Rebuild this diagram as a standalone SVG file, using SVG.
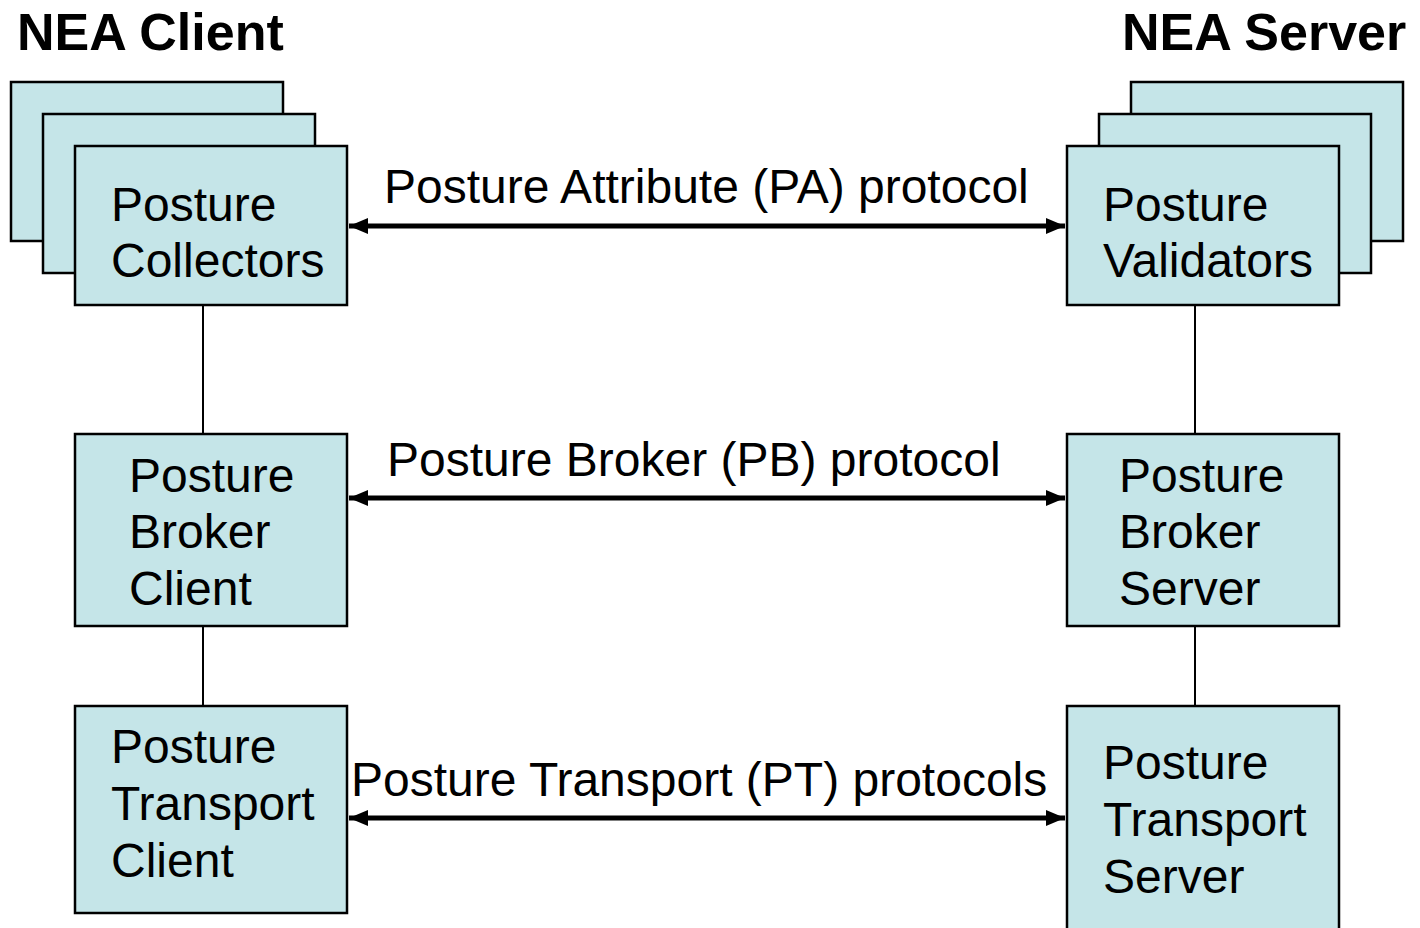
<svg xmlns="http://www.w3.org/2000/svg" width="1420" height="928" viewBox="0 0 1420 928">
<defs>
<style>
.box{fill:#C5E5E8;stroke:#000;stroke-width:2.5}
.t{font-family:"Liberation Sans",Arial,sans-serif;font-size:48px;fill:#000}
.h{font-family:"Liberation Sans",Arial,sans-serif;font-size:52px;font-weight:bold;fill:#000}
.link{stroke:#000;stroke-width:2;fill:none}
.arr{stroke:#000;stroke-width:5;fill:none;marker-start:url(#ah);marker-end:url(#ah)}
</style>
<marker id="ah" markerUnits="userSpaceOnUse" markerWidth="20" markerHeight="18" viewBox="0 0 20 18" refX="19" refY="9" orient="auto-start-reverse">
<path d="M0,1 L19,9 L0,17 Z" fill="#000"/>
</marker>
</defs>
<rect width="1420" height="928" fill="#fff"/>
<text class="h" x="17" y="50">NEA Client</text>
<text class="h" x="1122" y="50">NEA Server</text>
<g id="connectors">
<line class="link" x1="203" y1="305" x2="203" y2="434"/>
<line class="link" x1="203" y1="626" x2="203" y2="706"/>
<line class="link" x1="1195" y1="305" x2="1195" y2="434"/>
<line class="link" x1="1195" y1="626" x2="1195" y2="706"/>
<line class="arr" x1="349" y1="226" x2="1065" y2="226"/>
<line class="arr" x1="349" y1="498" x2="1065" y2="498"/>
<line class="arr" x1="349" y1="818" x2="1065" y2="818"/>
<text class="t" x="384" y="203">Posture Attribute (PA) protocol</text>
<text class="t" x="387" y="476">Posture Broker (PB) protocol</text>
<text class="t" x="351" y="796">Posture Transport (PT) protocols</text>
</g>
<g id="posture-collectors">
<rect class="box" x="11" y="82" width="272" height="159"/>
<rect class="box" x="43" y="114" width="272" height="159"/>
<rect class="box" x="75" y="146" width="272" height="159"/>
<text class="t" x="111" y="221">Posture</text>
<text class="t" x="111" y="277">Collectors</text>
</g>
<g id="posture-validators">
<rect class="box" x="1131" y="82" width="272" height="159"/>
<rect class="box" x="1099" y="114" width="272" height="159"/>
<rect class="box" x="1067" y="146" width="272" height="159"/>
<text class="t" x="1103" y="221">Posture</text>
<text class="t" x="1103" y="277">Validators</text>
</g>
<g id="posture-broker-client">
<rect class="box" x="75" y="434" width="272" height="192"/>
<text class="t" x="129" y="492">Posture</text>
<text class="t" x="129" y="548">Broker</text>
<text class="t" x="129" y="605">Client</text>
</g>
<g id="posture-broker-server">
<rect class="box" x="1067" y="434" width="272" height="192"/>
<text class="t" x="1119" y="492">Posture</text>
<text class="t" x="1119" y="548">Broker</text>
<text class="t" x="1119" y="605">Server</text>
</g>
<g id="posture-transport-client">
<rect class="box" x="75" y="706" width="272" height="207"/>
<text class="t" x="111" y="763">Posture</text>
<text class="t" x="111" y="820">Transport</text>
<text class="t" x="111" y="877">Client</text>
</g>
<g id="posture-transport-server">
<rect class="box" x="1067" y="706" width="272" height="240"/>
<text class="t" x="1103" y="779">Posture</text>
<text class="t" x="1103" y="836">Transport</text>
<text class="t" x="1103" y="893">Server</text>
</g>
</svg>
